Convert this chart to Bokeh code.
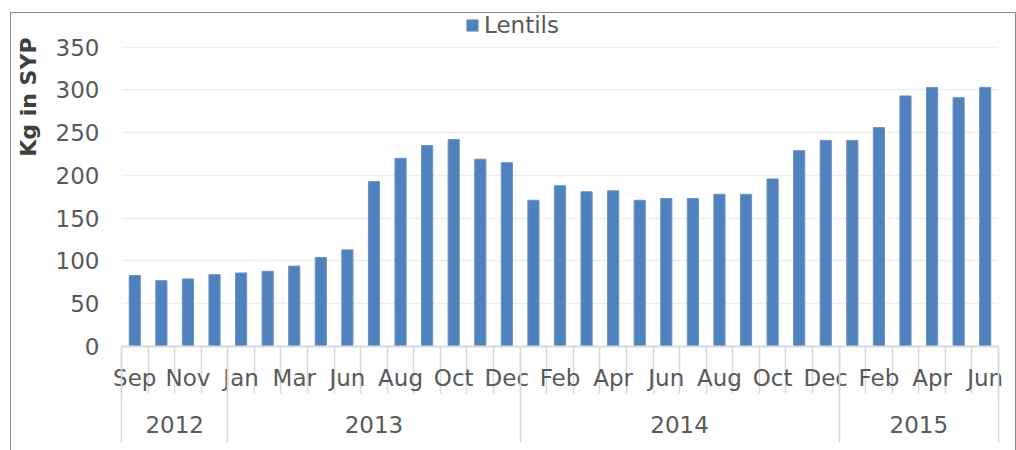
from bokeh.plotting import figure
from bokeh.models import (Range1d, FixedTicker, LinearAxis, Legend, LegendItem,
                          Title, ColumnDataSource)
from bokeh.embed import file_html
from bokeh.resources import INLINE

# ---- data ----
years = ["2012", "2013", "2014", "2015"]
months_2012 = ["Sep", "Oct", "Nov", "Dec"]
months_2013 = ["Jan", "Feb", "Mar", "Apr", "Jun", "Jul", "Aug", "Sep", "Oct", "Nov", "Dec"]
months_2014 = ["Jan", "Feb", "Mar", "Apr", "May", "Jun", "Jul", "Aug", "Sep", "Oct", "Nov", "Dec"]
months_2015 = ["Jan", "Feb", "Mar", "Apr", "May", "Jun"]
lentils = [83, 77, 79, 84,
           86, 88, 94, 104, 113, 193, 220, 235, 242, 219, 215,
           171, 188, 181, 182, 171, 173, 173, 178, 178, 196, 229, 241,
           241, 256, 293, 303, 291, 303]
y_ticks = [0, 50, 100, 150, 200, 250, 300, 350]
series_name = "Lentils"
y_title = "Kg in SYP"

groups = [months_2012, months_2013, months_2014, months_2015]
months = [m for g in groups for m in g]
n = len(months)
xs = list(range(n))

# positions derived from data
label_ticks = [i for i in xs if i % 2 == 0]
overrides = {i: months[i] for i in label_ticks}
boundaries = [i - 0.5 for i in range(n + 1)]
year_bounds = [-0.5]
year_centers = []
start = 0
for g in groups:
    end = start + len(g)
    year_bounds.append(end - 0.5)
    year_centers.append((start + end - 1) / 2)
    start = end
year_overrides = {c: y for c, y in zip(year_centers, years)}

FONT = "DejaVu Sans"
TXT = "#595959"

frame_h = 333
y_end = 350 * frame_h / 299.3

p = figure(frame_width=877, frame_height=frame_h,
           x_range=Range1d(-0.5, n - 0.5), y_range=Range1d(0, y_end),
           output_backend="svg", toolbar_location=None,
           min_border_left=110, min_border_right=17, min_border_top=0,
           min_border_bottom=104)
p.styles = {"margin-left": "10px", "margin-top": "12px",
            "border-left": "1px solid #8c8c8c",
            "border-top": "1px solid #8c8c8c",
            "border-right": "1px solid #8c8c8c"}
p.outline_line_color = None
p.background_fill_color = "white"
p.border_fill_color = "white"

src = ColumnDataSource(dict(x=xs, v=lentils))
bars = p.vbar(x="x", top="v", width=0.42, bottom=0, source=src,
              fill_color="#4f81bd", line_color="#6a93c6", line_width=1)

# y axis
p.yaxis.ticker = FixedTicker(ticks=y_ticks)
p.yaxis.axis_line_color = None
p.yaxis.major_tick_line_color = None
p.yaxis.minor_tick_line_color = None
p.yaxis.major_tick_out = 0
p.yaxis.major_tick_in = 0
p.yaxis.major_label_text_font = FONT
p.yaxis.major_label_text_font_size = "23px"
p.yaxis.major_label_text_color = TXT
p.yaxis.major_label_standoff = 22

p.ygrid.ticker = FixedTicker(ticks=y_ticks)
p.ygrid.grid_line_color = "#eeeeee"
p.ygrid.grid_line_width = 1.5
p.xgrid.visible = False

# spacer between tick labels and the y title (an empty, invisible axis)
spacer = LinearAxis(ticker=FixedTicker(ticks=[y_ticks[0]]),
                    major_label_overrides={y_ticks[0]: ""},
                    axis_line_color=None,
                    major_tick_line_color=None, minor_tick_line_color=None,
                    major_tick_out=12, major_tick_in=0, minor_tick_out=0,
                    major_label_standoff=0, major_label_text_font_size="1px")
p.add_layout(spacer, "left")

# x axis level 1 (months)
ax1 = p.xaxis[0]
ax1.ticker = FixedTicker(ticks=label_ticks, minor_ticks=boundaries)
ax1.major_label_overrides = overrides
ax1.axis_line_color = "#d9d9d9"
ax1.axis_line_width = 2
ax1.major_tick_line_color = None
ax1.major_tick_out = 0
ax1.major_tick_in = 0
ax1.minor_tick_line_color = "#d9d9d9"
ax1.minor_tick_line_width = 1.5
ax1.minor_tick_in = -47
ax1.minor_tick_out = 0
ax1.major_label_text_font = FONT
ax1.major_label_text_font_size = "23px"
ax1.major_label_text_color = TXT
ax1.major_label_standoff = 18

# x axis level 2 (years)
ax2 = LinearAxis(ticker=FixedTicker(ticks=year_centers, minor_ticks=year_bounds),
                 major_label_overrides=year_overrides)
ax2.axis_line_color = None
ax2.major_tick_line_color = None
ax2.major_tick_out = 0
ax2.major_tick_in = 0
ax2.minor_tick_line_color = "#d9d9d9"
ax2.minor_tick_line_width = 1.5
ax2.minor_tick_in = 45
ax2.minor_tick_out = 49
ax2.major_label_text_font = FONT
ax2.major_label_text_font_size = "23px"
ax2.major_label_text_color = TXT
ax2.major_label_standoff = -27
p.add_layout(ax2, "below")

# legend
legend = Legend(items=[LegendItem(label=series_name, renderers=[bars])],
                location=(344, 308), orientation="horizontal",
                glyph_width=14, glyph_height=14, label_standoff=5,
                padding=0, margin=0, spacing=0,
                border_line_color=None, background_fill_alpha=0,
                label_text_font=FONT, label_text_font_size="23px",
                label_text_color=TXT)
p.add_layout(legend, "center")

# y axis title
p.add_layout(Title(text=y_title, align="right", offset=24,
                   text_font=FONT, text_font_size="22px",
                   text_font_style="bold", text_color="#404040",
                   standoff=0), "left")

open("out.html", "w").write(file_html(p, INLINE))
